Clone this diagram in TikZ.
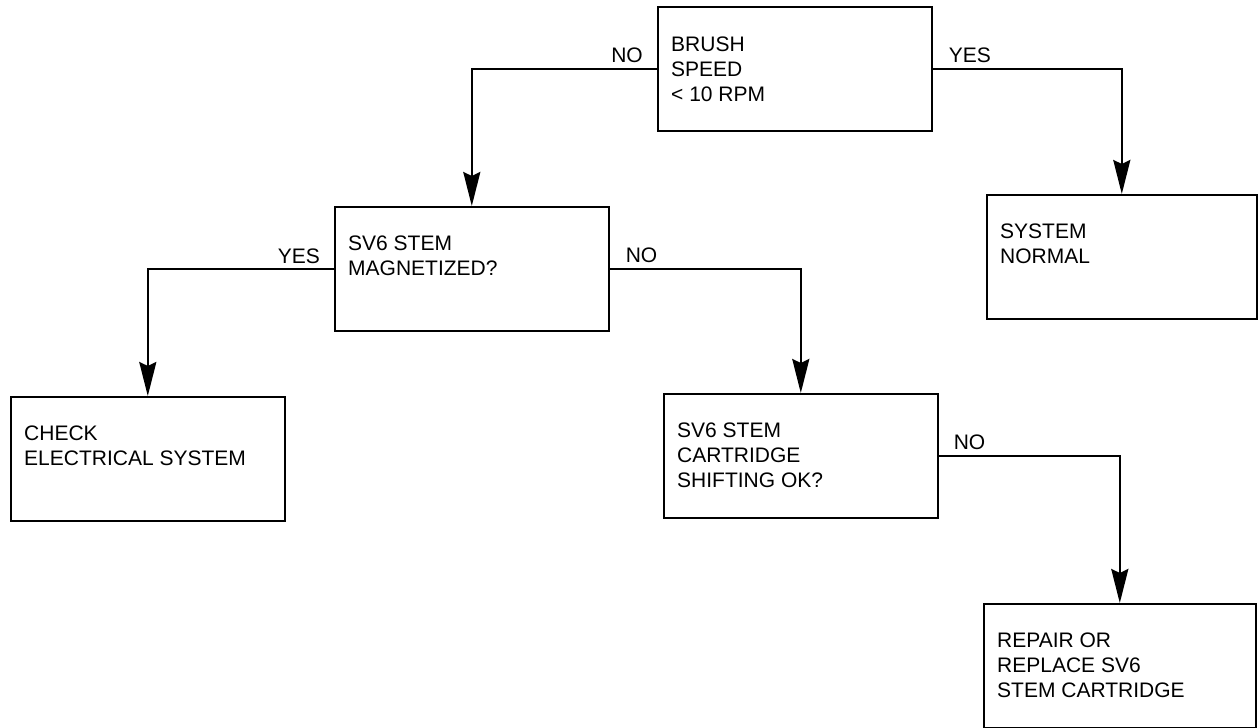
\documentclass[tikz,border=0pt]{standalone}
\usepackage{fontspec}
\setmainfont{Liberation Sans}
\usepackage{tikz}
\usetikzlibrary{arrows.meta}

\begin{document}
\begin{tikzpicture}[x=1pt,y=-1pt,
  box/.style={draw,line width=1.6pt,anchor=north west,minimum width=274pt,minimum height=124pt,inner sep=0pt},
  boxtext/.style={anchor=north west,align=left,inner sep=0pt,font=\fontsize{21}{25}\selectfont},
  answer/.style={inner sep=0pt,font=\fontsize{21}{25}\selectfont},
  flow/.style={line width=2.4pt,-{Stealth[length=34pt,width=17pt,inset=4pt]}}]
\useasboundingbox (0,0) rectangle (1259,728);
\node[box] (brush) at (657,6) {};
\node[box,minimum width=270pt] (normal) at (986,194) {};
\node[box] (mag) at (334,206) {};
\node[box] (check) at (10,396) {};
\node[box] (shift) at (663,393) {};
\node[box,minimum width=272pt] (repair) at (983,603) {};
\node[boxtext] (brushtxt) at ([shift={(14,31)}]brush.north west) {BRUSH\\SPEED\\< 10 RPM};
\node[boxtext] (normaltxt) at ([shift={(14,30)}]normal.north west) {SYSTEM\\NORMAL};
\node[boxtext] (magtxt) at ([shift={(14,30)}]mag.north west) {SV6 STEM\\MAGNETIZED?};
\node[boxtext] (checktxt) at ([shift={(14,30)}]check.north west) {CHECK\\ELECTRICAL SYSTEM};
\node[boxtext] (shifttxt) at ([shift={(14,30)}]shift.north west) {SV6 STEM\\CARTRIDGE\\SHIFTING OK?};
\node[boxtext] (repairtxt) at ([shift={(14,30)}]repair.north west) {REPAIR OR\\REPLACE SV6\\STEM CARTRIDGE};
\draw[flow] (brush.west) -| (mag.north);
\draw[flow] (brush.east) -| (normal.north);
\draw[flow] (mag.west) -| (check.north);
\draw[flow] (mag.east) -| (shift.north);
\draw[flow] (shift.east) -| (repair.north);
\node[answer,anchor=south east] (no1) at ([shift={(-14,-6)}]brush.west) {NO};
\node[answer,anchor=south west] (yes1) at ([shift={(16,-6)}]brush.east) {YES};
\node[answer,anchor=south east] (yes2) at ([shift={(-14,-5)}]mag.west) {YES};
\node[answer,anchor=south west] (no2) at ([shift={(16,-6)}]mag.east) {NO};
\node[answer,anchor=south west] (no3) at ([shift={(15,-6)}]shift.east) {NO};
\end{tikzpicture}
\end{document}
